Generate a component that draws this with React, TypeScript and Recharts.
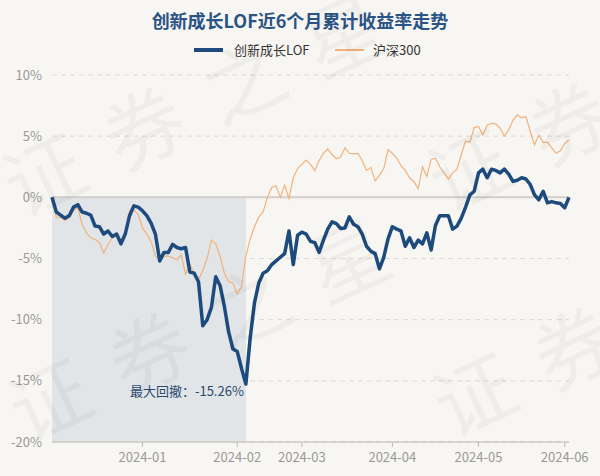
import React from 'react';
import {
  LineChart,
  Line,
  XAxis,
  YAxis,
  CartesianGrid,
  ReferenceArea,
  ReferenceLine,
  ReferenceDot,
} from 'recharts';

const chartTitle = '创新成长LOF近6个月累计收益率走势';
const seriesNames = ['创新成长LOF', '沪深300'];
const drawdownText = '最大回撤：';
const watermarkText = '证券之星';

const dates = [
  '2023-12-01', '2023-12-04', '2023-12-05', '2023-12-06', '2023-12-07', '2023-12-08',
  '2023-12-11', '2023-12-12', '2023-12-13', '2023-12-14', '2023-12-15',
  '2023-12-18', '2023-12-19', '2023-12-20', '2023-12-21', '2023-12-22',
  '2023-12-25', '2023-12-26', '2023-12-27', '2023-12-28', '2023-12-29',
  '2024-01-02', '2024-01-03', '2024-01-04', '2024-01-05',
  '2024-01-08', '2024-01-09', '2024-01-10', '2024-01-11', '2024-01-12',
  '2024-01-15', '2024-01-16', '2024-01-17', '2024-01-18', '2024-01-19',
  '2024-01-22', '2024-01-23', '2024-01-24', '2024-01-25', '2024-01-26',
  '2024-01-29', '2024-01-30', '2024-01-31',
  '2024-02-01', '2024-02-02', '2024-02-05', '2024-02-06', '2024-02-07', '2024-02-08',
  '2024-02-19', '2024-02-20', '2024-02-21', '2024-02-22', '2024-02-23',
  '2024-02-26', '2024-02-27', '2024-02-28', '2024-02-29',
  '2024-03-01', '2024-03-04', '2024-03-05', '2024-03-06', '2024-03-07', '2024-03-08',
  '2024-03-11', '2024-03-12', '2024-03-13', '2024-03-14', '2024-03-15',
  '2024-03-18', '2024-03-19', '2024-03-20', '2024-03-21', '2024-03-22',
  '2024-03-25', '2024-03-26', '2024-03-27', '2024-03-28', '2024-03-29',
  '2024-04-01', '2024-04-02', '2024-04-03',
  '2024-04-08', '2024-04-09', '2024-04-10', '2024-04-11', '2024-04-12',
  '2024-04-15', '2024-04-16', '2024-04-17', '2024-04-18', '2024-04-19',
  '2024-04-22', '2024-04-23', '2024-04-24', '2024-04-25', '2024-04-26',
  '2024-04-29', '2024-04-30',
  '2024-05-06', '2024-05-07', '2024-05-08', '2024-05-09', '2024-05-10',
  '2024-05-13', '2024-05-14', '2024-05-15', '2024-05-16', '2024-05-17',
  '2024-05-20', '2024-05-21', '2024-05-22', '2024-05-23', '2024-05-24',
  '2024-05-27', '2024-05-28', '2024-05-29', '2024-05-30', '2024-05-31',
  '2024-06-03', '2024-06-04',
];

const fundReturns = [
  0, -1.2, -1.45, -1.7, -1.5, -0.8, -0.6, -1.2, -1.3, -1.45,
  -2.35, -2.4, -3.0, -2.75, -3.2, -3.0, -3.8, -3.0, -1.5, -0.7,
  -0.8, -1.1, -1.5, -2.1, -3.0, -5.2, -4.5, -4.5, -3.85, -4.1,
  -4.2, -4.1, -6.1, -6.2, -6.9, -10.5, -10.0, -9.0, -6.5, -7.2,
  -8.9, -11.0, -12.4, -12.6, -14.0, -15.26, -11.5, -8.6, -7.0, -6.2,
  -6.0, -5.5, -5.2, -4.9, -4.6, -2.75, -5.5, -3.1, -2.85, -3.0,
  -3.6, -3.7, -4.5, -3.5, -2.6, -2.0, -2.15, -2.55, -2.5, -1.6,
  -2.2, -2.4, -3.0, -4.0, -4.4, -4.6, -5.85, -4.9, -3.4, -2.4,
  -2.6, -2.75, -4.0, -3.3, -4.1, -3.5, -3.8, -2.9, -4.3, -2.3,
  -1.5, -1.5, -1.5, -2.6, -2.35, -1.7, -0.8, 0.2, 0.5, 2.0,
  2.3, 1.6, 2.3, 2.2, 2.0, 2.3, 1.9, 1.3, 1.4, 1.6,
  1.5, 1.05, 0.2, -0.2, 0.5, -0.45, -0.35, -0.45, -0.5, -0.85,
  0.0,
];

const hs300Returns = [
  0, -1.65, -1.65, -1.9, -1.65, -1.05, -0.85, -2.2, -2.9, -3.3,
  -3.45, -3.7, -4.55, -3.85, -3.3, -3.2, -3.7, -3.0, -1.1, -1.0,
  -1.4, -2.5, -3.0, -3.6, -4.8, -5.2, -4.8, -4.8, -4.95, -5.1,
  -4.7, -6.3, -5.5, -6.2, -6.7, -6.0, -5.0, -3.5, -3.8, -4.8,
  -6.2, -6.9, -7.0, -7.9, -7.3, -4.8, -3.4, -2.4, -1.6, -1.2,
  0.0, 0.8, 0.95, 0.0, 1.0, -0.1, 1.6, 2.35, 2.7, 3.05,
  2.7, 2.2, 3.0, 3.6, 3.95, 3.5, 3.15, 3.3, 4.05, 3.6,
  3.55, 3.6, 3.0, 2.2, 2.45, 1.35, 1.8, 2.35, 3.9, 3.6,
  3.2, 2.6, 2.2, 1.6, 1.3, 0.7, 2.5, 1.7, 3.1, 3.2,
  2.5, 2.0, 1.5, 2.0, 2.3, 3.5, 4.6, 4.5, 5.7, 5.8,
  5.1, 5.9, 6.05, 6.0, 5.65, 5.0, 5.5, 6.3, 6.75, 6.5,
  6.6, 5.4, 4.3, 5.1, 4.5, 4.5, 4.05, 3.6, 3.8, 4.4,
  4.7,
];

const monthTicks = ['2024-01-02', '2024-02-01', '2024-03-01', '2024-04-01', '2024-05-06', '2024-06-03'];
const yTicks = [-20, -15, -10, -5, 0, 5, 10];

const data = dates.map((d, i) => ({ date: d, fund: fundReturns[i], hs300: hs300Returns[i] }));
const minValue = Math.min(...fundReturns);
const minIdx = fundReturns.indexOf(minValue);

const FONT = '"Noto Sans CJK SC", "Noto Sans", sans-serif';
const BG = '#f8f6f2';
const BLUE = '#1d4b7e';
const ORANGE = '#f2b27c';

const DrawdownLabel = (props: any) => {
  const vb = props.viewBox || {};
  const x = (vb.x ?? 0) + (vb.width ?? 0) / 2;
  const y = (vb.y ?? 0) + (vb.height ?? 0) / 2;
  return (
    <text x={x - 2} y={y + 12} textAnchor="end" fill="#2b4a70" fontSize={13} fontFamily={FONT}>
      {drawdownText + minValue.toFixed(2) + '%'}
    </text>
  );
};

const watermarkOrigins = [
  [21, 219],
  [26, 444],
  [446, 214],
  [451, 439],
];

export default function App() {
  return (
    <div
      style={{
        position: 'absolute',
        left: 0,
        top: 0,
        width: 600,
        height: 476,
        background: BG,
        overflow: 'hidden',
        fontFamily: FONT,
      }}
    >
      <div
        style={{
          position: 'absolute',
          left: 0,
          top: 8,
          width: 600,
          textAlign: 'center',
          fontSize: 18,
          lineHeight: '24px',
          fontWeight: 'bold',
          color: '#2a5386',
        }}
      >
        {chartTitle}
      </div>
      <div style={{ position: 'absolute', left: 194, top: 48, width: 29, height: 4, background: BLUE }} />
      <div style={{ position: 'absolute', left: 234, top: 41, fontSize: 13, lineHeight: '18px', color: '#333' }}>
        {seriesNames[0]}
      </div>
      <div style={{ position: 'absolute', left: 335, top: 49, width: 29, height: 2, background: ORANGE }} />
      <div style={{ position: 'absolute', left: 373, top: 41, fontSize: 13, lineHeight: '18px', color: '#333' }}>
        {seriesNames[1]}
      </div>
      <div style={{ position: 'absolute', left: 0, top: 0 }}>
        <LineChart width={600} height={476} data={data} margin={{ top: 75, right: 31, bottom: 4, left: 8 }}>
          <ReferenceArea
            x1={dates[0]}
            x2={dates[minIdx]}
            y1={-20}
            y2={0}
            fill="#e1e5e8"
            fillOpacity={1}
            stroke="none"
          />
          <CartesianGrid vertical={false} stroke="#dcdad6" strokeDasharray="5 4" />
          <XAxis
            dataKey="date"
            ticks={monthTicks}
            interval={0}
            tickFormatter={(d: string) => d.slice(0, 7)}
            axisLine={{ stroke: '#bdbab5' }}
            tickLine={{ stroke: '#bdbab5' }}
            tickSize={5}
            tickMargin={6}
            height={30}
            tick={{ fill: '#999', fontSize: 13, fontFamily: FONT }}
          />
          <YAxis
            type="number"
            domain={[-20, 10]}
            ticks={yTicks}
            interval={0}
            tickFormatter={(v: number) => `${v}%`}
            axisLine={false}
            tickLine={false}
            width={44}
            tickMargin={4}
            tick={{ fill: '#999', fontSize: 13, fontFamily: FONT }}
          />
          <ReferenceLine y={0} stroke="#d2cec9" strokeWidth={2} />
          <Line
            type="linear"
            dataKey="hs300"
            stroke={ORANGE}
            strokeWidth={1.2}
            dot={false}
            activeDot={false}
            isAnimationActive={false}
          />
          <Line
            type="linear"
            dataKey="fund"
            stroke={BLUE}
            strokeWidth={3.5}
            strokeLinejoin="round"
            dot={false}
            activeDot={false}
            isAnimationActive={false}
          />
          <ReferenceDot
            x={dates[minIdx]}
            y={minValue}
            r={0}
            fill="none"
            stroke="none"
            label={<DrawdownLabel />}
          />
        </LineChart>
      </div>
      <svg
        width={600}
        height={476}
        style={{ position: 'absolute', left: 0, top: 0, pointerEvents: 'none' }}
      >
        {watermarkOrigins.map(([x, y], i) => (
          <text
            key={i}
            x={x}
            y={y}
            transform={`rotate(-25 ${x} ${y})`}
            fontSize={80}
            letterSpacing={30}
            fill="#000"
            fillOpacity={0.035}
            fontFamily={FONT}
          >
            {watermarkText}
          </text>
        ))}
      </svg>
    </div>
  );
}
